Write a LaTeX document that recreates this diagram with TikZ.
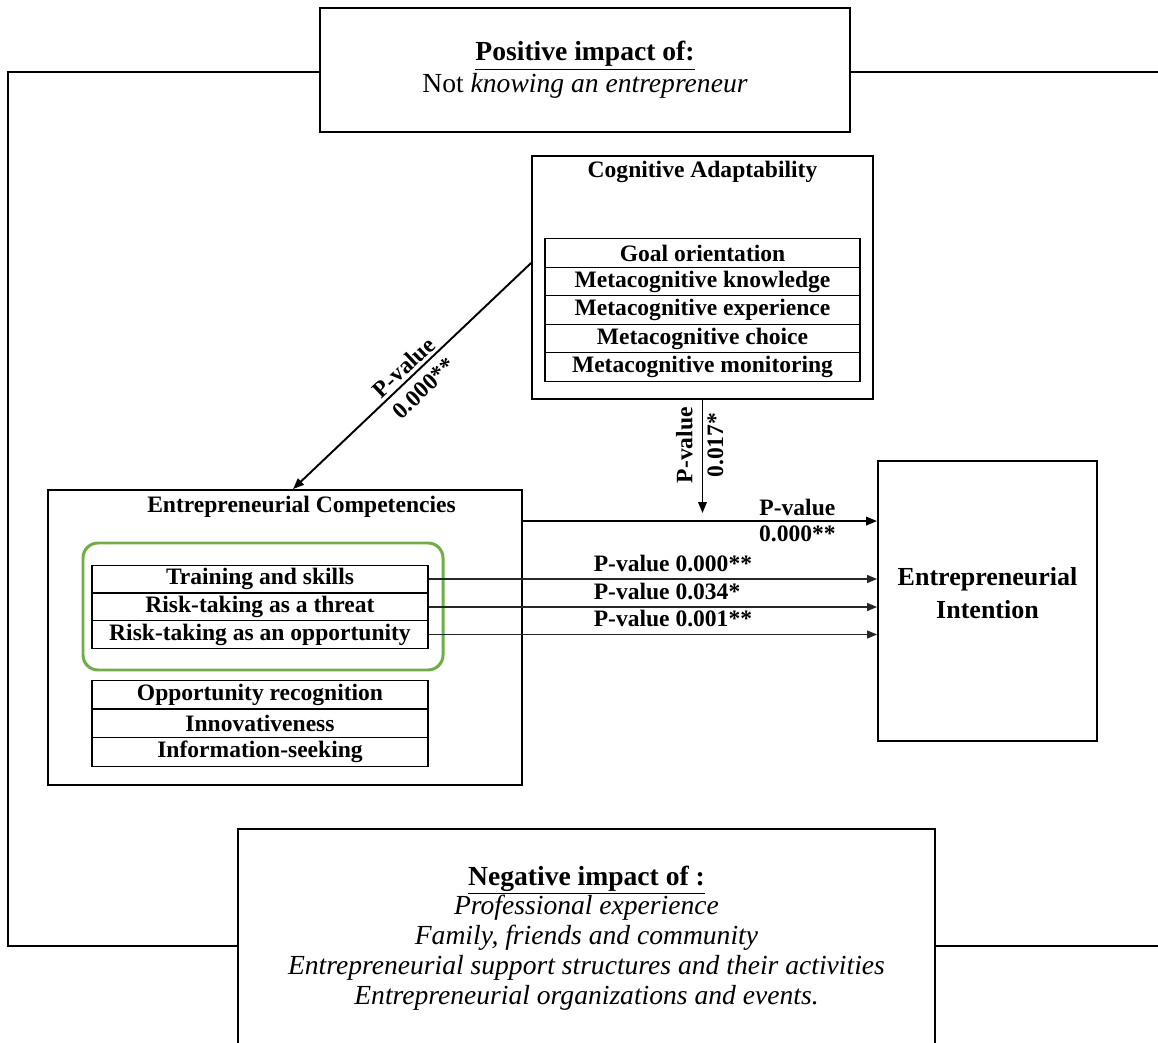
\documentclass[tikz,border=0pt]{standalone}
\usepackage{fontspec}
\setmainfont{Liberation Serif}
\usetikzlibrary{arrows.meta}

\begin{document}
\begin{tikzpicture}[x=0.02cm, y=-0.02cm]
   \tikzstyle{every node}=[font=\fontsize{13.4}{16}\selectfont\bfseries, inner sep=0pt]
   \tikzstyle{frame}=[draw, line width=0.85pt]
   \tikzstyle{impact}=[draw, fill=white, line width=0.85pt, align=center, font=\fontsize{15.7}{18}\selectfont]
   \tikzstyle{block}=[draw, line width=1.1pt]
   \tikzstyle{row}=[draw, line width=0.7pt]
   \tikzstyle{arr}=[->, >={Triangle[length=0.22cm, width=0.17cm]}, line width=1.1pt]
   \tikzstyle{thinarr}=[->, >={Triangle[length=0.2cm, width=0.16cm]}, line width=0.7pt, draw=black!85]
   \definecolor{leafgreen}{RGB}{112,173,71}

\useasboundingbox (0,0) rectangle (1158,1043);
\clip (0,0) rectangle (1158,1043);

% surrounding frame, running out on the right
\draw[frame] (1170,72) -- (8,72) -- (8,946) -- (1170,946);

\node[impact, minimum width=10.6cm, minimum height=2.48cm] (pos) at (585,70)
    {\underline{\textbf{Positive impact of:}}\\ Not \textit{knowing an entrepreneur}};

\node[impact, font=\fontsize{15.7}{17}\selectfont, minimum width=13.94cm, minimum height=4.36cm] (neg) at (586.5,938)
    {\underline{\textbf{Negative impact of :}}\\
     \textit{Professional experience}\\
     \textit{Family, friends and community}\\
     \textit{Entrepreneurial support structures and their activities}\\
     \textit{Entrepreneurial organizations and events.}};

% cognitive adaptability
\node[block, minimum width=6.82cm, minimum height=4.86cm] (ca) at (702.5,277.5) {};
\node (catitle) at (702.5,172) {Cognitive Adaptability};
\node[row, minimum width=6.3cm, minimum height=0.57cm] (go) at (702.5,253) {Goal orientation};
\node[row, minimum width=6.3cm, minimum height=0.57cm] (mk) at (702.5,281.5) {Metacognitive knowledge};
\node[row, minimum width=6.3cm, minimum height=0.57cm] (me) at (702.5,310) {Metacognitive experience};
\node[row, minimum width=6.3cm, minimum height=0.57cm] (mc) at (702.5,338.5) {Metacognitive choice};
\node[row, minimum width=6.3cm, minimum height=0.57cm] (mm) at (702.5,367) {Metacognitive monitoring};

% entrepreneurial competencies
\node[block, minimum width=9.48cm, minimum height=5.9cm] (ec) at (285,637.5) {};
\node (ectitle) at (301.5,507) {Entrepreneurial Competencies};
\draw[leafgreen, line width=1.7pt, rounded corners=0.3cm] (83,543) rectangle (443,670);
\node[row, minimum width=6.72cm, minimum height=0.555cm] (ts) at (260,579) {Training and skills};
\node[row, minimum width=6.72cm, minimum height=0.555cm] (rt) at (260,607) {Risk-taking as a threat};
\node[row, minimum width=6.72cm, minimum height=0.555cm] (ro) at (260,634.5) {Risk-taking as an opportunity};
\node[row, minimum width=6.72cm, minimum height=0.575cm] (or) at (260,694.5) {Opportunity recognition};
\node[row, minimum width=6.72cm, minimum height=0.575cm] (in) at (260,723.5) {Innovativeness};
\node[row, minimum width=6.72cm, minimum height=0.575cm] (is) at (260,752) {Information-seeking};

% entrepreneurial intention
\node[block, minimum width=4.38cm, minimum height=5.6cm,
      label={[align=center, yshift=0.15cm, font=\fontsize{14.8}{18.7}\selectfont\bfseries]center:Entrepreneurial\\Intention}]
    (ei) at (987.5,601) {};

% paths
\draw[arr] ([yshift=0.29cm]ca.west) -- ([xshift=0.16cm]ec.north)
    node[midway, sloped, above, inner sep=0.06cm] {P-value}
    node[midway, sloped, below, inner sep=0.16cm] {0.000**};
\draw[arr] ([yshift=-0.64cm]ec.north east) coordinate (m0) -- (m0 -| ei.west)
    node[pos=.775, above=0.08cm] {P-value}
    node[pos=.775, below=0.08cm] {0.000**};
\draw[arr] (ca.south) -- ([yshift=0.16cm]ca.south |- m0)
    node[pos=.4, rotate=90, anchor=south, inner sep=0.18cm] {P-value}
    node[pos=.4, rotate=90, anchor=north, inner sep=0.08cm] {0.017*};
\draw[thinarr] (ts.east) -- (ts.east -| ei.west)
    node[pos=.367, anchor=south west, yshift=0.14cm] {P-value 0.000**};
\draw[thinarr] (rt.east) -- (rt.east -| ei.west)
    node[pos=.367, anchor=south west, yshift=0.14cm] {P-value 0.034*};
\draw[thinarr] (ro.east) -- (ro.east -| ei.west)
    node[pos=.367, anchor=south west, yshift=0.14cm] {P-value 0.001**};

\end{tikzpicture}
\end{document}
